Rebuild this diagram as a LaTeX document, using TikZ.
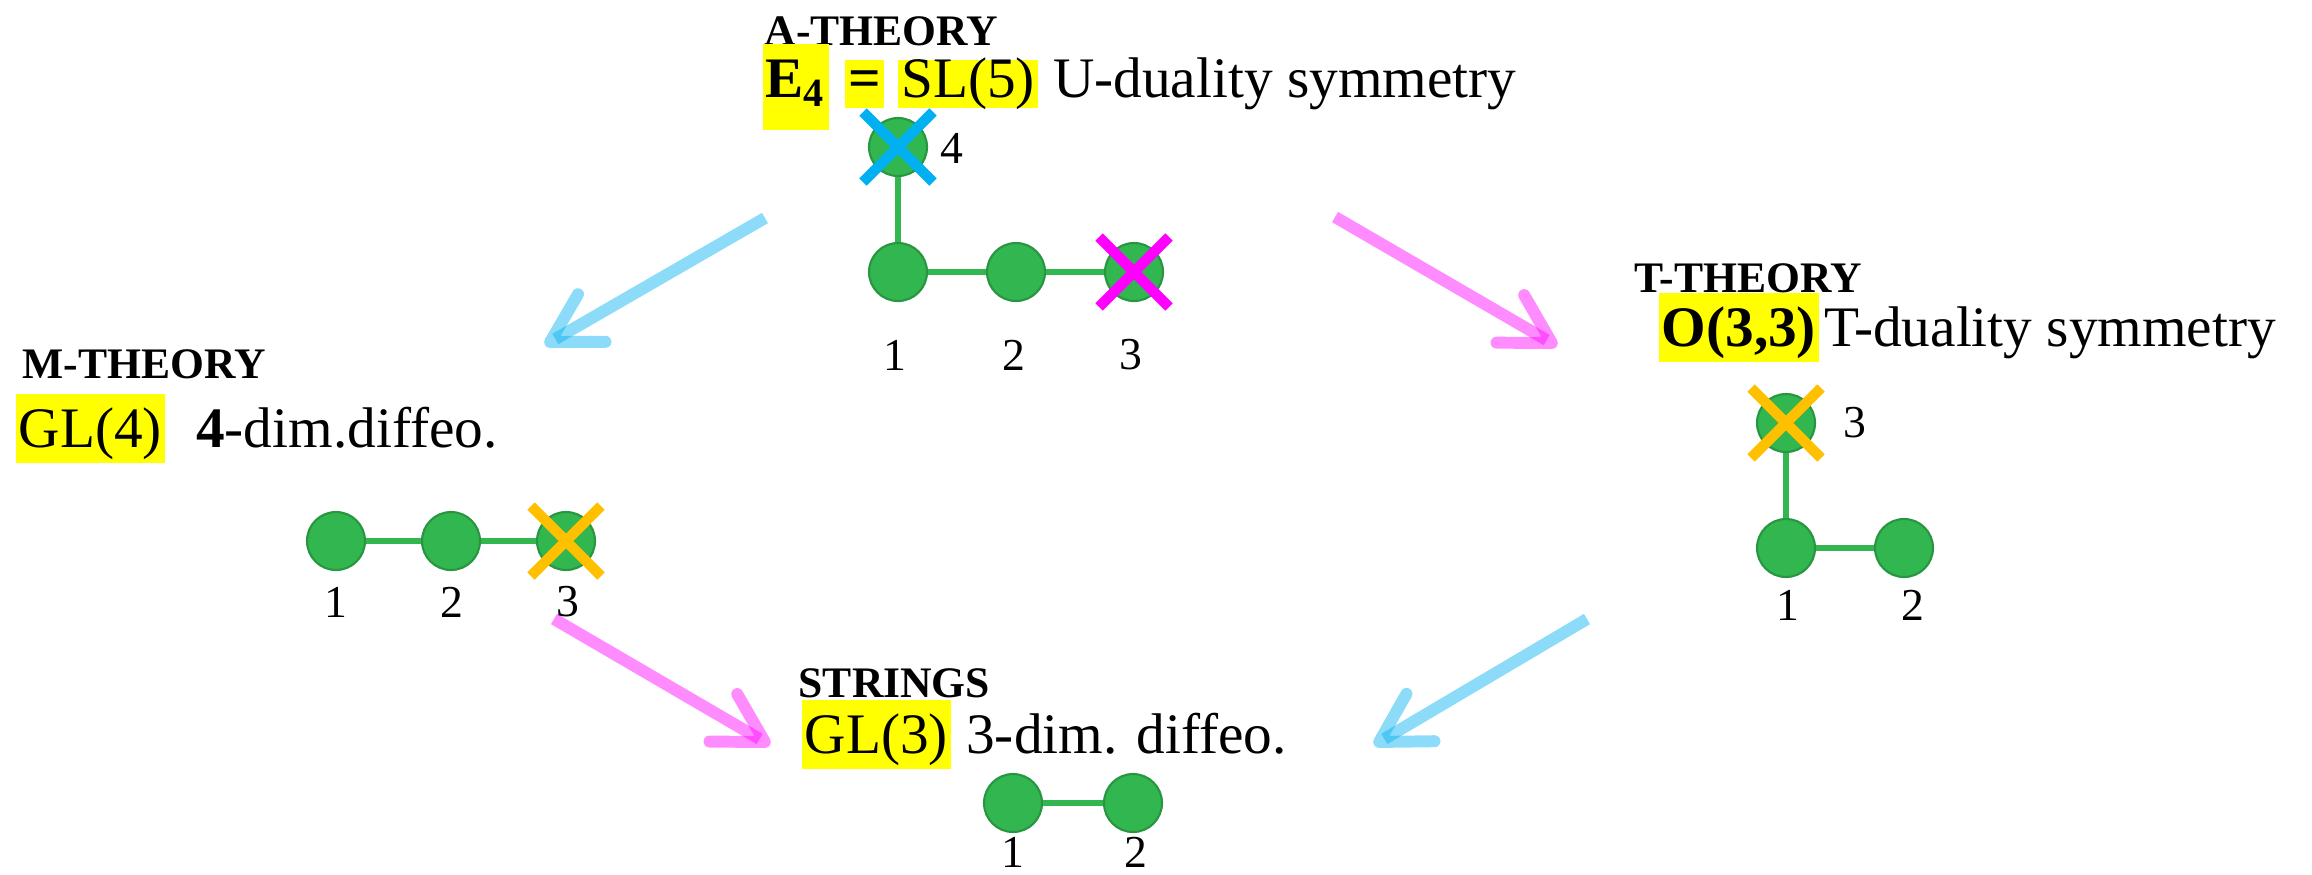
\documentclass[tikz,border=0pt]{standalone}
\usepackage{fontspec}
\setmainfont{Liberation Serif}
\usetikzlibrary{arrows.meta,positioning}

\definecolor{dotgreen}{RGB}{50,182,80}
\definecolor{dotrim}{RGB}{40,150,65}
\definecolor{ublue}{RGB}{0,176,240}
\definecolor{tpink}{RGB}{255,0,255}
\definecolor{morange}{RGB}{255,192,0}
\definecolor{hlyellow}{RGB}{255,255,0}

\tikzset{
  dot/.style={circle,fill=dotgreen,draw=dotrim,line width=0.6pt,minimum size=0.58cm,inner sep=0pt},
  link/.style={dotgreen,line width=1.6pt},
  num/.style={font=\fontsize{13}{15}\selectfont,inner sep=0pt},
  theory/.style={font=\fontsize{12.4}{14}\selectfont\bfseries,inner sep=0pt,anchor=base west},
  txt/.style={font=\fontsize{16.3}{19}\selectfont,inner sep=0pt,anchor=base west},
  hl/.style={txt,fill=hlyellow,text height=0.5cm,text depth=0.13cm,inner xsep=0.03cm,inner ysep=0.03cm},
  hlsmall/.style={txt,fill=hlyellow,text height=0.35cm,text depth=0.09cm,inner xsep=0.03cm,inner ysep=0.02cm},
  flow/.style={line width=3.4pt,draw opacity=0.45,-{Straight Barb[length=4.8mm,width=5.5mm,round]}},
  xmark/.style={line width=3pt}
}

\begin{document}
\begin{tikzpicture}
\useasboundingbox (0,0) rectangle (23.12,-8.74);

% A-theory
\node[theory] (atitle) at (7.64,-0.45) {A-THEORY};
\node[hl,text depth=0.3cm] (ae) at (7.62,-0.97) {\textbf{E\textsubscript{4}}};
\node[hlsmall,base right=0.15cm of ae] (aeq) {\textbf{=}};
\node[hlsmall,base right=0.13cm of aeq] (asl) {SL(5)};
\node[txt,base right=0.14cm of asl] (aname) {U-duality symmetry};
\node[dot] (a4) at (8.98,-1.47) {};
\node[dot] (a1) at (8.98,-2.72) {};
\node[dot] (a2) at (10.16,-2.72) {};
\node[dot] (a3) at (11.34,-2.72) {};
\draw[link] (a4) -- (a1) (a1) -- (a2) (a2) -- (a3);
\node[num] (la4) at (9.52,-1.48) {4};
\node[num] (la1) at (8.95,-3.55) {1};
\node[num] (la2) at (10.14,-3.55) {2};
\node[num] (la3) at (11.31,-3.55) {3};

% M-theory
\node[theory] (mtitle) at (0.22,-3.78) {M-THEORY};
\node[hl] (mgl) at (0.15,-4.47) {GL(4)};
\node[txt,base right=0.3cm of mgl] (mname) {\textbf{4}-dim.diffeo.};
\node[dot] (m1) at (3.36,-5.41) {};
\node[dot] (m2) at (4.51,-5.41) {};
\node[dot] (m3) at (5.66,-5.41) {};
\draw[link] (m1) -- (m2) (m2) -- (m3);
\node[num] (lm1) at (3.36,-6.02) {1};
\node[num] (lm2) at (4.52,-6.02) {2};
\node[num] (lm3) at (5.68,-6.02) {3};

% T-theory
\node[theory] (ttitle) at (16.34,-2.92) {T-THEORY};
\node[hl] (to) at (16.58,-3.46) {\textbf{O(3,3)}};
\node[txt,base right=0.04cm of to] (tname) {T-duality symmetry};
\node[dot] (t3) at (17.86,-4.23) {};
\node[dot] (t1) at (17.86,-5.48) {};
\node[dot] (t2) at (19.04,-5.48) {};
\draw[link] (t3) -- (t1) (t1) -- (t2);
\node[num] (lt3) at (18.55,-4.23) {3};
\node[num] (lt1) at (17.88,-6.05) {1};
\node[num] (lt2) at (19.13,-6.05) {2};

% strings
\node[theory] (stitle) at (7.98,-6.97) {STRINGS};
\node[hl] (sgl) at (8.01,-7.53) {GL(3)};
\node[txt,base right=0.14cm of sgl] (sname) {3-dim. diffeo.};
\node[dot] (s1) at (10.13,-8.03) {};
\node[dot] (s2) at (11.33,-8.03) {};
\draw[link] (s1) -- (s2);
\node[num] (ls1) at (10.13,-8.52) {1};
\node[num] (ls2) at (11.36,-8.52) {2};

% crosses
\foreach \n/\c in {a4/ublue,a3/tpink,m3/morange,t3/morange}
  \draw[\c,xmark] (\n.center) ++(-0.35,0.35) -- ++(0.7,-0.7)
                  (\n.center) ++(-0.35,-0.35) -- ++(0.7,0.7);

% arrows
\coordinate (amfrom) at (7.65,-2.18);
\coordinate (amto) at (5.45,-3.45);
\coordinate (atfrom) at (13.35,-2.17);
\coordinate (atto) at (15.57,-3.46);
\coordinate (msfrom) at (5.54,-6.19);
\coordinate (msto) at (7.70,-7.45);
\coordinate (tsfrom) at (15.87,-6.19);
\coordinate (tsto) at (13.74,-7.45);
\draw[flow,ublue] (amfrom) -- (amto);
\draw[flow,tpink] (atfrom) -- (atto);
\draw[flow,tpink] (msfrom) -- (msto);
\draw[flow,ublue] (tsfrom) -- (tsto);
\end{tikzpicture}
\end{document}
